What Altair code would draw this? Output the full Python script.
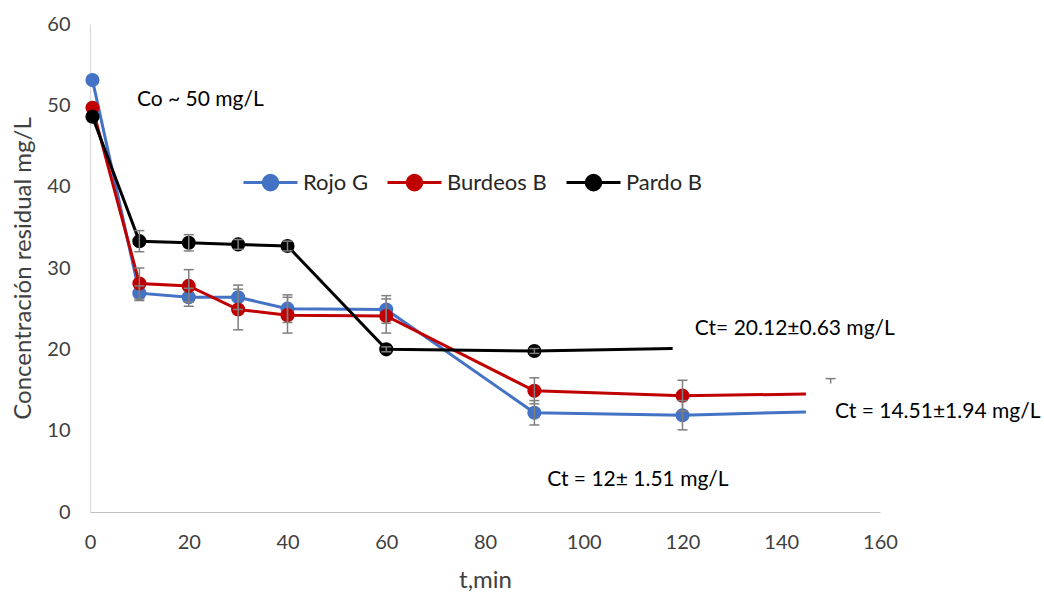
import altair as alt
import pandas as pd

# ---- data ----
series_names = ["Rojo G", "Burdeos B", "Pardo B"]
series_colors = ["#4472C4", "#C00000", "#000000"]

t_rojo = [0.5, 10, 20, 30, 40, 60, 90, 120, 145]
rojo = [53.1, 26.9, 26.4, 26.4, 25.0, 24.9, 12.2, 11.9, 12.3]
rojo_err = [0, 0.9, 1.1, 1.5, 1.7, 1.7, 1.5, 1.8, 0]
rojo_marker = [1, 1, 1, 1, 1, 1, 1, 1, 0]

t_burdeos = [0.5, 10, 20, 30, 40, 60, 90, 120, 145]
burdeos = [49.7, 28.1, 27.8, 24.9, 24.2, 24.1, 14.9, 14.3, 14.5]
burdeos_err = [0, 1.9, 2.0, 2.5, 2.2, 2.1, 1.6, 1.9, 0]
burdeos_marker = [1, 1, 1, 1, 1, 1, 1, 1, 0]

t_pardo = [0.5, 10, 20, 30, 40, 60, 90, 118]
pardo = [48.6, 33.3, 33.1, 32.9, 32.7, 20.0, 19.8, 20.1]
pardo_err = [0, 1.3, 1.0, 0.6, 0.6, 0.3, 0.3, 0]
pardo_marker = [1, 1, 1, 1, 1, 1, 1, 0]

# stray error cap visible at t = 150
stray_t = [150]
stray_hi = [16.4]
stray_lo = [15.8]

ann_text = ["Co ~ 50 mg/L", "Ct= 20.12±0.63 mg/L", "Ct = 14.51±1.94 mg/L", "Ct = 12± 1.51 mg/L"]
ann_t = [9.5, 122.5, 150.9, 92.6]
ann_y = [50.7, 22.5, 12.3, 3.9]

x_ticks = [0, 20, 40, 60, 80, 100, 120, 140, 160]
y_ticks = [0, 10, 20, 30, 40, 50, 60]

# ---- build tables ----
rows = []
for order, (name, ts, vs, es, ms) in enumerate([
    (series_names[0], t_rojo, rojo, rojo_err, rojo_marker),
    (series_names[1], t_burdeos, burdeos, burdeos_err, burdeos_marker),
    (series_names[2], t_pardo, pardo, pardo_err, pardo_marker),
]):
    for t, v, e, m in zip(ts, vs, es, ms):
        rows.append({"serie": name, "ord": order, "t": t, "c": v,
                     "lo": v - e, "hi": v + e, "err": e, "marker": m})
df = pd.DataFrame(rows)
err_df = df[df["err"] > 0]
pts_df = df[df["marker"] == 1]
stray_df = pd.DataFrame({"t": stray_t, "lo": stray_lo, "hi": stray_hi})
ann_df = pd.DataFrame({"text": ann_text, "t": ann_t, "c": ann_y})

FONT = "Lato"
x_scale = alt.Scale(domain=[0, 160], nice=False)
y_scale = alt.Scale(domain=[0, 60], nice=False)
color_scale = alt.Scale(domain=series_names, range=series_colors)

x_axis = alt.Axis(title="t,min", values=x_ticks, grid=False, ticks=False, tickSize=0,
                  domainColor="#bfbfbf", domainWidth=1.2, labelPadding=20,
                  labelFlush=False, titlePadding=16, labelFontSize=20,
                  titleFontSize=24, labelColor="#404040", titleColor="#404040",
                  labelFont=FONT, titleFont=FONT, titleFontWeight="normal")
y_axis = alt.Axis(title="Concentración residual mg/L", values=y_ticks, grid=False,
                  ticks=False, tickSize=0, domainColor="#d9d9d9", domainWidth=1.2,
                  labelPadding=20, labelFlush=False, titlePadding=11,
                  labelFontSize=20, titleFontSize=24, labelColor="#404040",
                  titleColor="#404040", labelFont=FONT, titleFont=FONT,
                  titleFontWeight="normal")

sym_path = ("M-1,0 L1,0 M-0.27,0 A0.27,0.27 0 1,0 0.27,0 "
            "A0.27,0.27 0 1,0 -0.27,0 Z")


def make_legend():
    return alt.Legend(
        title=None, orient="none", direction="horizontal", legendX=152, legendY=130,
        symbolType=sym_path, symbolSize=2916, symbolStrokeWidth=3, symbolOpacity=1,
        labelFontSize=22, labelFont=FONT, labelColor="#262626", labelOffset=4,
        columnPadding=13, padding=0,
    )


lines = alt.Chart(df).mark_line(strokeWidth=3).encode(
    x=alt.X("t:Q", scale=x_scale, axis=x_axis),
    y=alt.Y("c:Q", scale=y_scale, axis=y_axis),
    stroke=alt.Stroke("serie:N", scale=color_scale, legend=make_legend(),
                      sort=series_names),
    order=alt.Order("t:Q"),
    detail="ord:O",
)

points = alt.Chart(pts_df).mark_point(filled=True, size=200, opacity=1).encode(
    x=alt.X("t:Q", scale=x_scale),
    y=alt.Y("c:Q", scale=y_scale),
    fill=alt.Fill("serie:N", scale=color_scale, legend=make_legend(),
                  sort=series_names),
)

err_rule = alt.Chart(err_df).mark_rule(color="#7f7f7f", strokeWidth=1.5).encode(
    x=alt.X("t:Q", scale=x_scale),
    y=alt.Y("lo:Q", scale=y_scale),
    y2="hi:Q",
)
cap_hi = alt.Chart(err_df).mark_tick(orient="horizontal", size=10, thickness=1.5,
                                     color="#7f7f7f", opacity=1).encode(
    x=alt.X("t:Q", scale=x_scale),
    y=alt.Y("hi:Q", scale=y_scale),
)
cap_lo = alt.Chart(err_df).mark_tick(orient="horizontal", size=10, thickness=1.5,
                                     color="#7f7f7f", opacity=1).encode(
    x=alt.X("t:Q", scale=x_scale),
    y=alt.Y("lo:Q", scale=y_scale),
)

stray_rule = alt.Chart(stray_df).mark_rule(color="#7f7f7f", strokeWidth=1.5).encode(
    x=alt.X("t:Q", scale=x_scale),
    y=alt.Y("lo:Q", scale=y_scale),
    y2="hi:Q",
)
stray_cap = alt.Chart(stray_df).mark_tick(orient="horizontal", size=10, thickness=1.5,
                                          color="#7f7f7f", opacity=1).encode(
    x=alt.X("t:Q", scale=x_scale),
    y=alt.Y("hi:Q", scale=y_scale),
)

annotations = alt.Chart(ann_df).mark_text(
    align="left", baseline="middle", fontSize=21, font=FONT, color="#000000"
).encode(
    x=alt.X("t:Q", scale=x_scale),
    y=alt.Y("c:Q", scale=y_scale),
    text="text:N",
)

chart = alt.layer(
    lines, points, err_rule, cap_hi, cap_lo, stray_rule, stray_cap, annotations
).properties(
    width=790, height=488,
    autosize=alt.AutoSizeParams(type="none"),
    padding={"left": 90, "top": 24, "right": 164, "bottom": 80},
    background="white",
).configure_view(stroke=None)

chart.save("out.html", embed_options={"renderer": "svg", "actions": False})
